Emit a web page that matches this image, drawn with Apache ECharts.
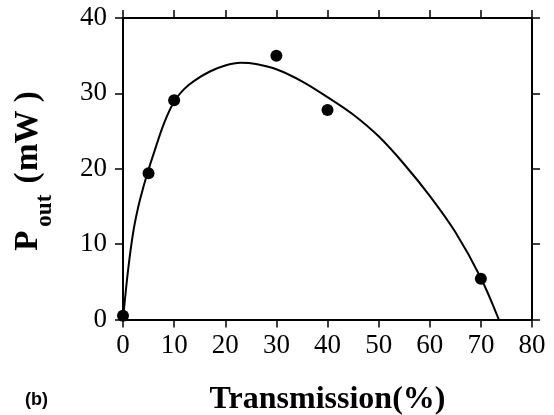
<!DOCTYPE html>
<html>
<head>
<meta charset="utf-8">
<script src="https://cdn.jsdelivr.net/npm/echarts@6/dist/echarts.min.js"></script>
<style>
html,body{margin:0;padding:0;background:#fff;}
#chart{width:554px;height:415px;}
</style>
</head>
<body>
<div id="chart"></div>
<script>
// Measured data points: transmission (%) and output power (mW)
const pointX = [0, 5, 10, 30, 40, 70];
const pointY = [0.5, 19.4, 29.1, 35.0, 27.8, 5.4];

// Fitted curve
const curveX = [0, 1, 2, 3, 4, 5, 6, 8, 10, 12, 14, 17, 20, 23, 26, 30, 35, 40, 45, 50, 55, 60, 65, 70, 73.5];
const curveY = [0, 6.6, 11.6, 15.0, 17.6, 19.9, 22.0, 26.0, 28.9, 30.6, 31.7, 32.9, 33.7, 34.05, 33.9, 33.2, 31.6, 29.5, 27.2, 24.3, 20.6, 16.4, 11.6, 5.5, 0];

const xTicks = ['0','10','20','30','40','50','60','70','80'];
const yTicks = ['0','10','20','30','40'];

const chart = echarts.init(document.getElementById('chart'), null, {renderer: 'canvas'});
const serif = '"Liberation Serif", "Times New Roman", serif';
const axisLine = {show: true, onZero: false, lineStyle: {color: '#000', width: 2}};
const axisTick = {show: true, inside: false, length: 8, lineStyle: {color: '#000', width: 1.5}};

chart.setOption({
  backgroundColor: '#fff',
  animation: false,
  grid: {left: 123, right: 22, top: 18, bottom: 95.5, containLabel: false, outerBoundsMode: 'none'},
  xAxis: [{
    type: 'value', min: 0, max: 80, interval: 10, position: 'bottom',
    axisLine: axisLine, axisTick: axisTick, splitLine: {show: false},
    axisLabel: {color: '#000', fontFamily: serif, fontSize: 27, margin: 13,
      formatter: v => xTicks[Math.round(v / 10)]},
    name: 'Transmission(%)', nameLocation: 'middle', nameGap: 64,
    nameTextStyle: {color: '#000', fontFamily: serif, fontSize: 32, fontWeight: 'bold'}
  }, {
    type: 'value', min: 0, max: 80, interval: 10, position: 'top',
    axisLine: axisLine, axisTick: axisTick, splitLine: {show: false},
    axisLabel: {show: false}
  }],
  yAxis: [{
    type: 'value', min: 0, max: 40, interval: 10, position: 'left',
    axisLine: axisLine, axisTick: axisTick, splitLine: {show: false},
    axisLabel: {color: '#000', fontFamily: serif, fontSize: 27, margin: 16,
      formatter: v => yTicks[Math.round(v / 10)]}
  }, {
    type: 'value', min: 0, max: 40, interval: 10, position: 'right',
    axisLine: axisLine, axisTick: axisTick, splitLine: {show: false},
    axisLabel: {show: false}
  }],
  series: [{
    type: 'line', xAxisIndex: 0, yAxisIndex: 0,
    data: curveX.map((x, i) => [x, curveY[i]]),
    smooth: 0.35, showSymbol: false, clip: false,
    lineStyle: {color: '#000', width: 2}
  }, {
    type: 'scatter', xAxisIndex: 0, yAxisIndex: 0,
    data: pointX.map((x, i) => [x, pointY[i]]),
    symbol: 'circle', symbolSize: 12, clip: false,
    itemStyle: {color: '#000', opacity: 1}
  }],
  graphic: [{
    type: 'text', x: 30, y: 171, rotation: Math.PI / 2,
    style: {
      text: '{a|P}{b|out}{a| (}{t| }{a|mW )}',
      align: 'center', verticalAlign: 'middle', fill: '#000',
      rich: {
        a: {fontFamily: serif, fontSize: 33, fontWeight: 'bold', lineHeight: 36, verticalAlign: 'top', fill: '#000'},
        b: {fontFamily: serif, fontSize: 23, fontWeight: 'bold', lineHeight: 23, padding: [22, 3, 0, 4], verticalAlign: 'top', fill: '#000'},
        t: {fontFamily: serif, fontSize: 6, lineHeight: 36, verticalAlign: 'top', fill: '#000'}
      }
    }
  }, {
    type: 'text', left: 25, top: 391,
    style: {text: '(b)', fontFamily: '"Liberation Sans", Arial, sans-serif', fontSize: 18, fontWeight: 'bold', fill: '#000'}
  }]
});
</script>
</body>
</html>
